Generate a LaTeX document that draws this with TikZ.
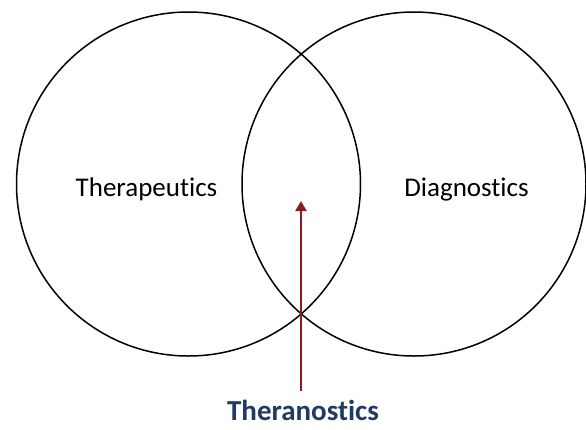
\documentclass[tikz,border=0pt]{standalone}
\usepackage{fontspec}
\setmainfont[Ligatures=NoCommon]{Carlito}
\usetikzlibrary{arrows.meta}
\definecolor{arrowred}{HTML}{8E1A1E}
\definecolor{labelnavy}{HTML}{1F3A63}
\begin{document}
\begin{tikzpicture}[x=1pt, y=-1pt,
    ring/.style = {circle, draw, line width=1.5pt, minimum size=344pt, inner sep=0pt},
    field/.style = {font=\fontsize{27}{32}\selectfont, anchor=base, inner sep=0pt},
    pointer/.style = {-{Triangle[width=11pt,length=10pt]}, line width=2.8pt, color=arrowred}]
  \useasboundingbox (0,0) rectangle (586,429);
  \node[ring] (therring) at (188.5,184) {};
  \node[ring] (diagring) at (414,184) {};
  \node[field] (therapeutics) at (146.5,196) {Therapeutics};
  \node[field] (diagnostics) at (466.5,196) {Diagnostics};
  \node[field, font=\fontsize{29}{34}\selectfont\bfseries, color=labelnavy] (theranostics) at (303,420) {Theranostics};
  \coordinate (tip) at (301,201);
  \draw[pointer] (theranostics.north -| tip) ++(0,-8) -- (tip);
\end{tikzpicture}
\end{document}
